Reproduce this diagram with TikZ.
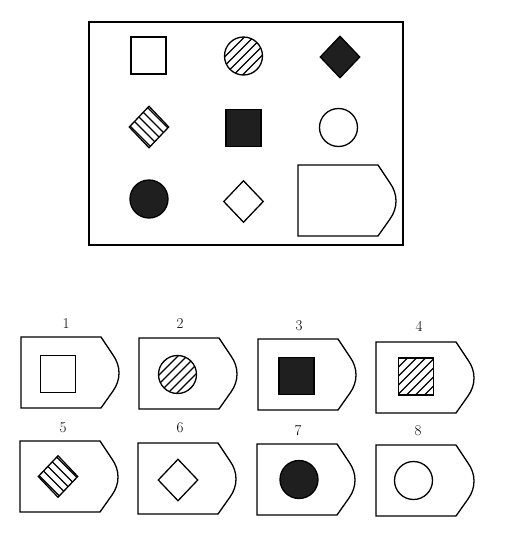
\documentclass[tikz,border=0pt]{standalone}
\usetikzlibrary{shapes.geometric}

\begin{document}
\begin{tikzpicture}[
    x=1pt, y=-1pt,
    fig/.style={draw, line width=1.3pt, inner sep=0pt},
    sq/.style={fig, rectangle, minimum width=35pt, minimum height=37pt},
    circ/.style={fig, circle, minimum size=38pt},
    dmd/.style={fig, diamond, minimum width=40pt, minimum height=42pt},
    dark/.style={fill=black!88},
    hatchup/.style={path picture={\foreach \i in {-72,-63,...,72} \draw[line width=1.2pt] ([xshift=\i pt]path picture bounding box.center) ++(-40pt,-40pt) -- ++(80pt,80pt);}},
    hatchdown/.style={path picture={\foreach \i in {-72,-63,...,72} \draw[line width=1.2pt] ([xshift=\i pt]path picture bounding box.center) ++(-40pt,40pt) -- ++(80pt,-80pt);}},
    num/.style={font=\fontsize{15}{17}\selectfont},
    tagbox/.pic={\draw[line width=1.3pt] (0,0) -- (80,0) -- (92,18) .. controls (100,29) and (100,43) .. (92,54) -- (80,71) -- (0,71) -- cycle;}
]
    \useasboundingbox (0,0) rectangle (504,536);

    % Problem matrix
    \draw[line width=1.3pt] (89,22) rectangle (403,245);
    \node[sq] (m1) at (148.5,55.5) {};
    \node[circ, hatchup] (m2) at (243.5,56) {};
    \node[dmd, dark] (m3) at (340,57) {};
    \node[dmd, hatchdown] (m4) at (149,127) {};
    \node[sq, dark] (m5) at (243.5,128) {};
    \node[circ] (m6) at (338.5,127.5) {};
    \node[circ, dark] (m7) at (149,199) {};
    \node[dmd] (m8) at (243.5,201.5) {};
    \pic (gap) at (298,165) {tagbox};

    % Answer options, first row
    \pic (t1) at (21,337) {tagbox};
    \pic (t2) at (139,338) {tagbox};
    \pic (t3) at (258,339) {tagbox};
    \pic (t4) at (376,342) {tagbox};
    \node[num] (l1) at (66,324) {1};
    \node[num] (l2) at (180,324) {2};
    \node[num] (l3) at (299,326) {3};
    \node[num] (l4) at (419,326) {4};
    \node[sq] (o1) at (58,374) {};
    \node[circ, hatchup] (o2) at (177.5,374.5) {};
    \node[sq, dark] (o3) at (296.5,376) {};
    \node[sq, hatchup] (o4) at (416,376.5) {};

    % Answer options, second row
    \pic (t5) at (20,441) {tagbox};
    \pic (t6) at (138,443) {tagbox};
    \pic (t7) at (257,444) {tagbox};
    \pic (t8) at (376,445) {tagbox};
    \node[num] (l5) at (63,428) {5};
    \node[num] (l6) at (180,428) {6};
    \node[num] (l7) at (298,431) {7};
    \node[num] (l8) at (418,431) {8};
    \node[dmd, hatchdown] (o5) at (58,476.5) {};
    \node[dmd] (o6) at (178,480) {};
    \node[circ, dark] (o7) at (299,479.5) {};
    \node[circ] (o8) at (413.5,480.5) {};
\end{tikzpicture}
\end{document}
